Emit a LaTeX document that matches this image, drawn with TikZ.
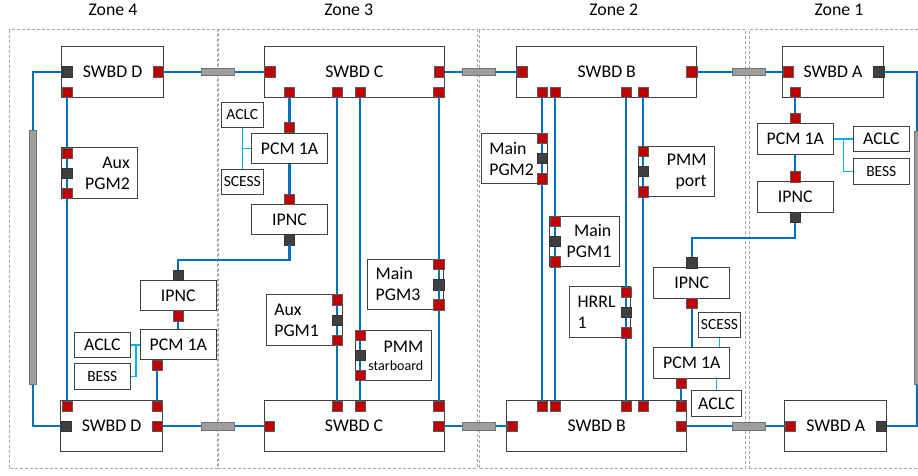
\documentclass[tikz,border=0pt]{standalone}
\usepackage{fontspec}
\setmainfont{Carlito}
\usetikzlibrary{calc}
\definecolor{busblue}{HTML}{0070C0}
\definecolor{linkblue}{HTML}{00B0F0}
\definecolor{portred}{HTML}{C00000}
\definecolor{portdark}{HTML}{404040}
\newcommand{\txtbig}{\fontsize{17.8}{21}\selectfont}
\newcommand{\txtsmall}{\fontsize{15.5}{18}\selectfont}
\newcommand{\txtstar}{\fontsize{14}{16}\selectfont}
\tikzset{
  zonebox/.style={draw=black!35, line width=0.9pt, dash pattern=on 3pt off 2pt, minimum height=439pt, inner sep=0pt},
  basebox/.style={draw=black!75, line width=1pt, fill=white, inner sep=0pt, font=\txtbig},
  swbdbox/.style={basebox, minimum width=101.6pt, minimum height=50.6pt},
  widebox/.style={basebox, minimum width=180pt, minimum height=50.6pt},
  pcmbox/.style={basebox, minimum width=76pt, minimum height=30.5pt},
  smallbox/.style={basebox, minimum height=25.4pt},
  pgmbox/.style={basebox, inner xsep=8pt, minimum height=50.6pt},
  redport/.style={draw=black!65, line width=0.6pt, fill=portred, minimum size=10.4pt, inner sep=0pt},
  darkport/.style={draw=black!80, line width=0.6pt, fill=portdark, minimum size=10.4pt, inner sep=0pt},
  tiebar/.style={draw=black!55, line width=0.7pt, fill=black!38, inner sep=0pt},
  bus/.style={busblue, line width=2.3pt},
  link/.style={linkblue, line width=1.6pt}
}
\begin{document}
\begin{tikzpicture}[x=1pt, y=-1pt]
  \useasboundingbox (0,0) rectangle (918,475);
  \clip (0,0) rectangle (918,475);
  \def\Ytop{71.7}
  \def\Ytoprow{92}
  \def\Ybot{426.3}
  \def\Ybotrow{406}
  % Zones
  \node[zonebox, minimum width=208pt] (zonefour) at (113.5,249) {};
  \node[zonebox, minimum width=258.7pt] (zonethree) at (347.65,249) {};
  \node[zonebox, minimum width=265.5pt] (zonetwo) at (612.25,249) {};
  \node[zonebox, minimum width=190pt] (zoneone) at (844.3,249) {};
  \node[font=\txtbig] (zonefourlabel) at (113,9.5) {Zone 4};
  \node[font=\txtbig] (zonethreelabel) at (348.7,9.5) {Zone 3};
  \node[font=\txtbig] (zonetwolabel) at (613.7,9.5) {Zone 2};
  \node[font=\txtbig] (zoneonelabel) at (839,9.5) {Zone 1};
  % Switchboards
  \node[swbdbox] (swbdDtop) at (112.5,72) {SWBD D};
  \node[swbdbox] (swbdDbot) at (111.5,426) {SWBD D};
  \node[widebox] (swbdCtop) at (354.3,72) {SWBD C};
  \node[widebox] (swbdCbot) at (354,426) {SWBD C};
  \node[widebox] (swbdBtop) at (606.8,72) {SWBD B};
  \node[widebox] (swbdBbot) at (596.7,426) {SWBD B};
  \node[swbdbox] (swbdAtop) at (833,72) {SWBD A};
  \node[swbdbox] (swbdAbot) at (835.7,426) {SWBD A};
  % Zone 4 units
  \node[pcmbox] (ipncfour) at (178.3,295.5) {IPNC};
  \node[pcmbox] (pcmfour) at (178.3,344.7) {PCM 1A};
  \node[smallbox, minimum width=56pt] (aclcfour) at (102.3,344.7) {ACLC};
  \node[smallbox, minimum width=56pt, font=\txtsmall] (bessfour) at (102.3,376.4) {BESS};
  \node[pgmbox, text width=60pt, align=right] (auxtwo) at (99.8,173) {Aux\\PGM2};
  % Zone 3 units
  \node[pcmbox] (pcmthree) at (289.5,148.3) {PCM 1A};
  \node[pcmbox] (ipncthree) at (289.5,219.7) {IPNC};
  \node[smallbox, minimum width=42pt, font=\txtsmall] (aclcthree) at (242.3,115) {ACLC};
  \node[smallbox, minimum width=42pt, font=\txtsmall] (scessthree) at (242.3,181.7) {SCESS};
  \node[pgmbox, text width=60pt, align=left] (auxone) at (304.3,319.9) {Aux\\PGM1};
  \node[pgmbox, text width=60pt, align=left] (mainthree) at (405.7,284.4) {Main\\PGM3};
  \node[pgmbox, text width=60pt, align=right] (pmmstar) at (393.3,355.4) {PMM\\[-3pt]{\txtstar starboard}};
  % Zone 2 units
  \node[pgmbox, text width=50pt, align=left] (maintwo) at (514.3,158.5) {Main\\PGM2};
  \node[pgmbox, text width=53.6pt, align=right] (mainone) at (584.5,241.4) {Main\\PGM1};
  \node[pgmbox, text width=45.3pt, align=left] (hrrl) at (600.3,312.2) {HRRL\\1};
  \node[pgmbox, text width=60pt, align=right] (pmmport) at (676.5,171.4) {PMM\\port};
  \node[pcmbox] (ipnctwo) at (691.7,282.9) {IPNC};
  \node[pcmbox] (pcmtwo) at (691.7,363) {PCM 1A};
  \node[smallbox, minimum width=42.4pt, font=\txtsmall] (scesstwo) at (719.5,325) {SCESS};
  \node[smallbox, minimum width=50.7pt] (aclctwo) at (716.4,403.5) {ACLC};
  % Zone 1 units
  \node[pcmbox] (pcmone) at (795.3,139) {PCM 1A};
  \node[pcmbox] (ipncone) at (795.3,196.9) {IPNC};
  \node[smallbox, minimum width=56pt] (aclcone) at (881.3,139) {ACLC};
  \node[smallbox, minimum width=56pt, font=\txtsmall] (bessone) at (881.3,171.3) {BESS};
  % Red ports
  \foreach \pname/\px/\py in {
    rdDtR/158/\Ytop, rdDtB/67/\Ytoprow, rdAuxA/67/153, rdAuxB/67/193.3,
    rdDbT/67/\Ybotrow, rdDbR/157/\Ybot, rdDbP/157/\Ybotrow, rdPf/157/365, rdIf/178.3/315.7,
    rdCtL/269.7/\Ytop, rdCtR/439.3/\Ytop, rdCtA/289.5/\Ytoprow, rdCtB/337.3/\Ytoprow, rdCtC/360.3/\Ytoprow, rdCtD/438.7/\Ytoprow,
    rdPt/289.5/127.3, rdIt/289.5/199.3, rdAoA/337.3/299.7, rdAoB/337.3/340.3,
    rdMtA/438.7/264.3, rdMtB/438.7/304.7, rdPsA/360.3/335, rdPsB/360.3/375.3,
    rdCbB/337.3/\Ybotrow, rdCbC/360.3/\Ybotrow, rdCbD/438.7/\Ybotrow, rdCbL/269.3/\Ybot, rdCbR/438.7/\Ybot,
    rdBtL/522.3/\Ytop, rdBtR/691.7/\Ytop, rdBtA/542.3/\Ytoprow, rdBtB/555/\Ytoprow, rdBtC/626/\Ytoprow, rdBtD/643.3/\Ytoprow,
    rdMwA/542.3/138.3, rdMwB/542.3/178.7, rdPpA/643.3/151, rdPpB/643.3/191.7,
    rdMoA/555/221.3, rdMoB/555/261.7, rdHrA/626/292, rdHrB/626/332.7,
    rdIw/691.7/303, rdPw/681.3/383.3,
    rdBbA/542.3/\Ybotrow, rdBbB/555/\Ybotrow, rdBbC/626/\Ybotrow, rdBbD/643.3/\Ybotrow, rdBbE/681.3/\Ybotrow, rdBbL/512/\Ybot, rdBbR/681.3/\Ybot,
    rdAtL/788/\Ytop, rdAtB/795.3/\Ytoprow, rdPo/795.3/118.3, rdIo/795.3/176.7, rdAbL/790.3/\Ybot}
    \node[redport] (\pname) at (\px,\py) {};
  % Dark ports
  \foreach \pname/\px/\py in {
    dkDtL/67/\Ytop, dkAux/67/173.3, dkDbL/66/\Ybot, dkIf/178.3/275, dkIt/289.5/239.7,
    dkAo/337.3/320, dkMt/438.7/284.7, dkPs/360.3/355.3, dkMw/542.3/158.3, dkPp/643.3/171.3,
    dkMo/555/241, dkHr/626/312.3, dkIw/691.7/262.7, dkIo/795.3/217, dkAt/878.7/\Ytop, dkAb/881.3/\Ybot}
    \node[darkport] (\pname) at (\px,\py) {};
  % Tie bars
  \foreach \bname/\bx/\by in {
    barTa/217.8/\Ytop, barTb/479.2/\Ytop, barTc/749/\Ytop,
    barBa/217.8/\Ybot, barBb/479.2/\Ybot, barBc/749/\Ybot}
    \node[tiebar, minimum width=33pt, minimum height=7.4pt] (\bname) at (\bx,\by) {};
  \node[tiebar, minimum width=7.6pt, minimum height=253.6pt] (barL) at (32.9,257.5) {};
  \node[tiebar, minimum width=6.4pt, minimum height=253pt] (barR) at (917.5,257.5) {};
  % Junctions
  \coordinate (jnbusfour) at (234,260.3);
  \coordinate (jnbustwo) at (743,238.3);
  \coordinate (jnlinkfour) at (135.7,344.7);
  \coordinate (jnlinkthree) at (242.3,148.3);
  \coordinate (jnlinkone) at (843.3,139);
  % Main bus
  \draw[bus] (dkDtL) -| (barL);
  \draw[bus] (dkDbL) -| (barL);
  \draw[bus] (dkAt) -| (barR);
  \draw[bus] (dkAb) -| (barR);
  \draw[bus] (rdDtR) -- (barTa) -- (rdCtL);
  \draw[bus] (rdCtR) -- (barTb) -- (rdBtL);
  \draw[bus] (rdBtR) -- (barTc) -- (rdAtL);
  \draw[bus] (rdDbR) -- (barBa) -- (rdCbL);
  \draw[bus] (rdCbR) -- (barBb) -- (rdBbL);
  \draw[bus] (rdBbR) -- (barBc) -- (rdAbL);
  % Feeders
  \draw[bus] (rdDtB) -- (rdAuxA) -- (dkAux) -- (rdAuxB) -- (rdDbT);
  \draw[bus] (rdCtB) -- (rdAoA) -- (dkAo) -- (rdAoB) -- (rdCbB);
  \draw[bus] (rdCtC) -- (rdPsA) -- (dkPs) -- (rdPsB) -- (rdCbC);
  \draw[bus] (rdCtD) -- (rdMtA) -- (dkMt) -- (rdMtB) -- (rdCbD);
  \draw[bus] (rdBtA) -- (rdMwA) -- (dkMw) -- (rdMwB) -- (rdBbA);
  \draw[bus] (rdBtB) -- (rdMoA) -- (dkMo) -- (rdMoB) -- (rdBbB);
  \draw[bus] (rdBtC) -- (rdHrA) -- (dkHr) -- (rdHrB) -- (rdBbC);
  \draw[bus] (rdBtD) -- (rdPpA) -- (dkPp) -- (rdPpB) -- (rdBbD);
  % Power conversion branches
  \draw[bus] (rdCtA) -- (rdPt);
  \draw[bus] (pcmthree) -- (rdIt);
  \draw[bus] (rdAtB) -- (rdPo);
  \draw[bus] (pcmone) -- (rdIo);
  \draw[bus] (rdIf) -- (pcmfour);
  \draw[bus] (rdPf) -- (rdDbP);
  \draw[bus] (rdIw) -- (pcmtwo);
  \draw[bus] (rdPw) -- (rdBbE);
  \draw[bus] (dkIf) |- (jnbusfour) -| (dkIt);
  \draw[bus] (dkIw) |- (jnbustwo) -| (dkIo);
  % Storage and load links
  \draw[link] (aclcfour) -- (pcmfour);
  \draw[link] (bessfour) -| (jnlinkfour);
  \draw[link] (aclcthree) -- (scessthree);
  \draw[link] (pcmthree) -- (jnlinkthree);
  \draw[link] (scesstwo) -- (scesstwo |- pcmtwo.north);
  \draw[link] (aclctwo) -- (aclctwo |- pcmtwo.south);
  \draw[link] (pcmone) -- (aclcone);
  \draw[link] (bessone) -| (jnlinkone);
\end{tikzpicture}
\end{document}
